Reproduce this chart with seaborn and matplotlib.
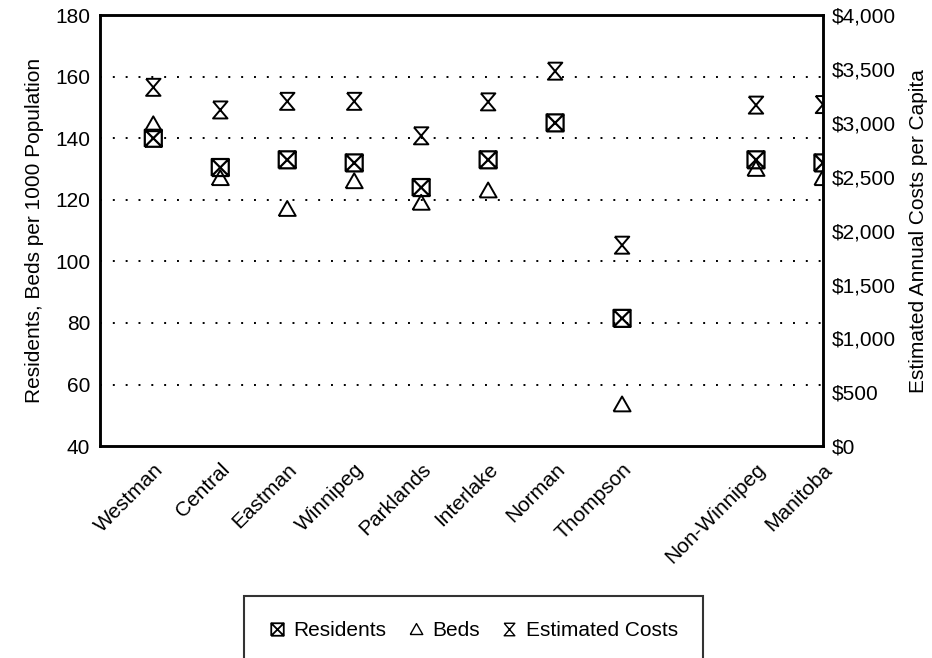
import numpy as np
import pandas as pd
import matplotlib
matplotlib.use('Agg')
import matplotlib.pyplot as plt
from matplotlib.path import Path
from matplotlib.lines import Line2D
from matplotlib.ticker import FuncFormatter
import seaborn as sns

sns.set_style('white')
plt.rcParams['font.family'] = ['Liberation Sans', 'DejaVu Sans']
plt.rcParams['text.color'] = 'black'
plt.rcParams['axes.labelcolor'] = 'black'
plt.rcParams['xtick.color'] = 'black'
plt.rcParams['ytick.color'] = 'black'

# data ("" = empty slot between regions and totals)
regions = ["Westman", "Central", "Eastman", "Winnipeg", "Parklands", "Interlake",
           "Norman", "Thompson", "", "Non-Winnipeg", "Manitoba"]
residents = [140, 130.5, 133, 132, 124, 133, 145, 81.5, np.nan, 133, 132]
beds = [144.5, 127, 117, 126, 119, 123, np.nan, 53.5, np.nan, 130, 127]
costs = [3330, 3120, 3200, 3200, 2880, 3195, 3480, 1865, np.nan, 3165, 3170]

df = pd.DataFrame({'region': regions, 'residents': residents, 'beds': beds, 'costs': costs})
df['pos'] = np.arange(1, len(regions) + 1)

# custom markers: boxed X, triangle, hourglass
box_x = Path([(-1, -1), (1, -1), (1, 1), (-1, 1), (-1, -1), (-1, -1), (1, 1), (-1, 1), (1, -1)],
             [Path.MOVETO, Path.LINETO, Path.LINETO, Path.LINETO, Path.LINETO,
              Path.MOVETO, Path.LINETO, Path.MOVETO, Path.LINETO])
hourglass = Path([(-0.85, 1), (0.85, 1), (-0.85, -1), (0.85, -1), (-0.85, 1)],
                 [Path.MOVETO, Path.LINETO, Path.LINETO, Path.LINETO, Path.LINETO])
tri = Path([(-1, -0.8), (1, -0.8), (0, 0.95), (-1, -0.8)],
           [Path.MOVETO, Path.LINETO, Path.LINETO, Path.LINETO])

fig = plt.figure(figsize=(9.32, 6.58), dpi=100)
ax = fig.add_axes([0.107, 0.322, 0.776, 0.655])

sns.scatterplot(data=df, x='pos', y='beds', marker=tri, s=150, facecolor='none',
                edgecolor='black', linewidth=1.4, ax=ax, zorder=3)
sns.scatterplot(data=df, x='pos', y='residents', marker=box_x, s=150, facecolor='none',
                edgecolor='black', linewidth=1.6, ax=ax, zorder=4)

ax.set_xlim(0.2, 11)
ax.set_ylim(40, 180)
ax.set_yticks(np.arange(40, 181, 20))
for g in np.arange(60, 161, 20):
    ax.axhline(g, color='black', linestyle=(0, (1, 5.6)), linewidth=1.4, zorder=1)
ax.set_xticks(df['pos'])
ax.set_xticklabels(regions, rotation=45, ha='right', rotation_mode='anchor', fontsize=15)
ax.tick_params(axis='x', direction='in', length=8, width=1.5, pad=10)
ax.tick_params(axis='y', length=0, labelsize=15, pad=7)
ax.set_xlabel('')
ax.set_ylabel('Residents, Beds per 1000 Population', fontsize=15, labelpad=8)

ax2 = ax.twinx()
sns.scatterplot(data=df, x='pos', y='costs', marker=hourglass, s=150, facecolor='none',
                edgecolor='black', linewidth=1.4, ax=ax2, zorder=3)
ax2.set_ylim(0, 4000)
ax2.set_yticks(np.arange(0, 4001, 500))
ax2.yaxis.set_major_formatter(FuncFormatter(lambda v, p: '${:,.0f}'.format(v)))
ax2.tick_params(axis='y', length=0, labelsize=15, pad=6)
ax2.set_ylabel('Estimated Annual Costs per Capita', fontsize=15, labelpad=10)
ax2.set_xlim(0.2, 11)

for a in (ax, ax2):
    for sp in a.spines.values():
        sp.set_visible(True)
        sp.set_color('black')
        sp.set_linewidth(1.8)

handles = [
    Line2D([], [], linestyle='none', marker=box_x, markersize=9, markerfacecolor='none',
           markeredgecolor='black', markeredgewidth=1.3),
    Line2D([], [], linestyle='none', marker=tri, markersize=9, markerfacecolor='none',
           markeredgecolor='black', markeredgewidth=1.0),
    Line2D([], [], linestyle='none', marker=hourglass, markersize=9, markerfacecolor='none',
           markeredgecolor='black', markeredgewidth=1.0),
]
leg = fig.legend(handles, ['Residents', 'Beds', 'Estimated Costs'], loc='upper center',
                 bbox_to_anchor=(0.508, 0.094), ncol=3, fontsize=15, frameon=True,
                 fancybox=False, edgecolor='black', borderpad=1.2, borderaxespad=0,
                 handlelength=0.8, handletextpad=0.4, columnspacing=1.0)
leg.get_frame().set_linewidth(1.5)

fig.savefig('out.png', dpi=100)
